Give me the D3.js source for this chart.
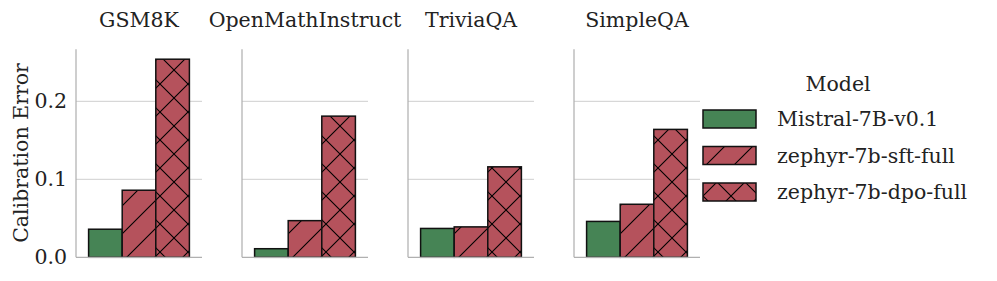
<!DOCTYPE html>
<html>
<head>
<meta charset="utf-8">
<script src="https://cdn.jsdelivr.net/npm/d3@7"></script>
<style>
  body { margin: 0; background: #fff; }
  svg text { font-family: "DejaVu Serif", serif; fill: #222; }
</style>
</head>
<body>
<svg id="chart" width="997" height="281"></svg>
<script>
// data
var datasets = ['GSM8K', 'OpenMathInstruct', 'TriviaQA', 'SimpleQA'];
var models = ['Mistral-7B-v0.1', 'zephyr-7b-sft-full', 'zephyr-7b-dpo-full'];
var mistral = [0.036, 0.011, 0.037, 0.046];
var sft = [0.086, 0.047, 0.039, 0.068];
var dpo = [0.254, 0.181, 0.116, 0.164];
var yTicks = [0.0, 0.1, 0.2];

var series = [mistral, sft, dpo];
var colors = ['#468455', '#b5525c', '#b5525c'];
var hatches = [null, 'url(#hatch-fwd)', 'url(#hatch-x)'];
var fontSize = '20.5px';

var svg = d3.select('#chart');

// hatch patterns, anchored to the svg origin like matplotlib
var defs = svg.append('defs');
var p = 28;
var fwd = defs.append('pattern').attr('id', 'hatch-fwd')
    .attr('patternUnits', 'userSpaceOnUse')
    .attr('width', p).attr('height', p);
fwd.append('path')
    .attr('d', 'M0,' + p + ' L' + p + ',0 M-' + p/2 + ',' + p/2 + ' L' + p/2 + ',-' + p/2 +
               ' M' + p/2 + ',' + (p*1.5) + ' L' + (p*1.5) + ',' + p/2)
    .attr('stroke', '#000').attr('stroke-width', 1.1);
var xx = defs.append('pattern').attr('id', 'hatch-x')
    .attr('patternUnits', 'userSpaceOnUse')
    .attr('width', p).attr('height', p);
xx.append('path')
    .attr('d', 'M0,' + p + ' L' + p + ',0 M0,0 L' + p + ',' + p)
    .attr('stroke', '#000').attr('stroke-width', 1.1);

// scales
var panel = d3.scaleBand().domain(datasets).range([76, 700]).paddingInner(40 / 166);
var w = panel.bandwidth();
var xBar = d3.scaleBand().domain(models).range([w * 0.1, w * 0.9]);
var y = d3.scaleLinear().domain([0, 0.2667]).range([257.3, 49.3]);

datasets.forEach(function(ds, i) {
    var g = svg.append('g').attr('transform', 'translate(' + panel(ds) + ',0)');

    // grid
    g.selectAll('.grid').data(yTicks.slice(1)).enter().append('line')
        .attr('x1', 0).attr('x2', w)
        .attr('y1', function(d) { return y(d); })
        .attr('y2', function(d) { return y(d); })
        .attr('stroke', '#cfcfcf').attr('stroke-width', 1);

    // bars: fill first, hatch on top, then the edge
    models.forEach(function(m, j) {
        var v = series[j][i];
        var bx = xBar(m), by = y(v), bw = xBar.bandwidth(), bh = y(0) - y(v);
        g.append('rect').attr('x', bx).attr('y', by).attr('width', bw).attr('height', bh)
            .attr('fill', colors[j]);
        if (hatches[j]) {
            g.append('rect').attr('x', bx).attr('y', by).attr('width', bw).attr('height', bh)
                .attr('fill', hatches[j]);
        }
        g.append('rect').attr('x', bx).attr('y', by).attr('width', bw).attr('height', bh)
            .attr('fill', 'none').attr('stroke', '#111').attr('stroke-width', 1.5);
    });

    // spines
    g.append('line').attr('x1', 0).attr('x2', 0).attr('y1', y.range()[1]).attr('y2', y(0))
        .attr('stroke', '#b0b0b0').attr('stroke-width', 1.25);
    g.append('line').attr('x1', 0).attr('x2', w).attr('y1', y(0)).attr('y2', y(0))
        .attr('stroke', '#b0b0b0').attr('stroke-width', 1.25);

    // panel title
    g.append('text').attr('x', w / 2).attr('y', 27)
        .attr('text-anchor', 'middle').style('font-size', fontSize)
        .text(ds);
});

// y tick labels, first panel only
svg.selectAll('.ytick').data(yTicks).enter().append('text')
    .attr('x', 67).attr('y', function(d) { return y(d) + 7; })
    .attr('text-anchor', 'end').style('font-size', fontSize)
    .text(function(d) { return d3.format('.1f')(d); });

svg.append('text')
    .attr('transform', 'translate(28,153) rotate(-90)')
    .attr('text-anchor', 'middle').style('font-size', fontSize)
    .text('Calibration Error');

// legend
var leg = svg.append('g').attr('transform', 'translate(703,0)');
leg.append('text').attr('x', 135).attr('y', 91)
    .attr('text-anchor', 'middle').style('font-size', fontSize).text('Model');
models.forEach(function(m, j) {
    var ly = 110 + j * 36.5;
    leg.append('rect').attr('x', 0).attr('y', ly).attr('width', 53).attr('height', 18)
        .attr('fill', colors[j]);
    if (hatches[j]) {
        leg.append('rect').attr('x', 0).attr('y', ly).attr('width', 53).attr('height', 18)
            .attr('fill', hatches[j]);
    }
    leg.append('rect').attr('x', 0).attr('y', ly).attr('width', 53).attr('height', 18)
        .attr('fill', 'none').attr('stroke', '#111').attr('stroke-width', 1.5);
    leg.append('text').attr('x', 74).attr('y', ly + 16)
        .style('font-size', fontSize).text(m);
});
</script>
</body>
</html>
